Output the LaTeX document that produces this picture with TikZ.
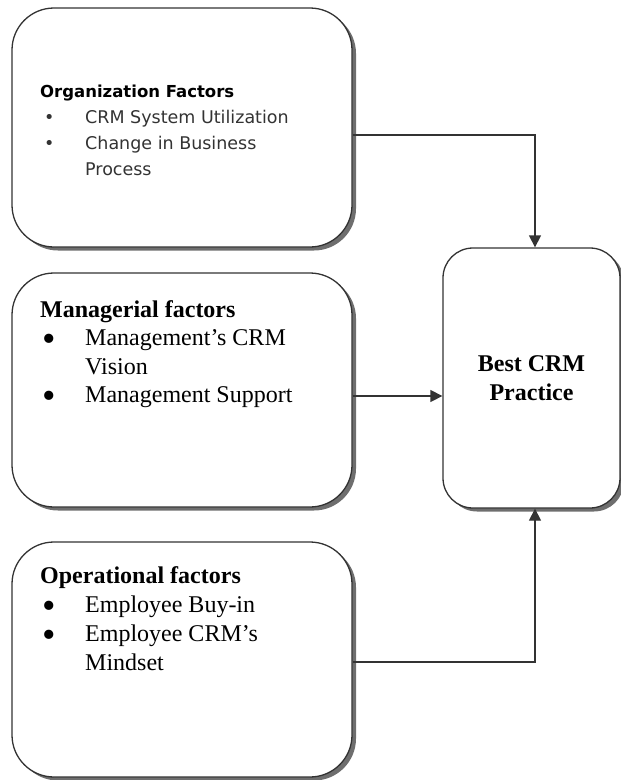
\documentclass[tikz,border=0pt]{standalone}
\usepackage{fontspec}
\setmainfont{Liberation Serif}
\newfontfamily\factorSans{DejaVu Sans}
\usetikzlibrary{positioning, arrows.meta, shadows}
\definecolor{boxDarkGrey}{HTML}{333333}
\definecolor{shadowGrey}{HTML}{6E6E6E}
\definecolor{itemGrey}{HTML}{333333}

% bullet line and its continuation, text starts 45pt in
\newcommand{\factorItem}[1]{\hspace*{4pt}\makebox[41pt][l]{\textbullet}#1}
\newcommand{\factorBig}[1]{\hspace*{2pt}\makebox[43pt][l]{\raisebox{-5.5pt}{\scalebox{1.6}{\textbullet}}}#1}
\newcommand{\factorMore}[1]{\hspace*{45pt}#1}

\begin{document}
\begin{tikzpicture}[x=1pt, y=-1pt,
    factorBox/.style={draw=boxDarkGrey, line width=1.3pt, fill=white, rounded corners=42pt,
      minimum width=340pt, inner sep=0pt,
      drop shadow={shadow xshift=4pt, shadow yshift=-3.5pt, fill=shadowGrey, opacity=1}},
    factorText/.style={anchor=north west, align=left, inner sep=0pt},
    flowArrow/.style={-{Triangle[length=12pt, width=12pt]}, line width=1.3pt, boxDarkGrey}]
  \useasboundingbox (0,0) rectangle (621,780);

  % the three factor groups
  \node[factorBox, minimum height=239pt] (org) at (182,127.5) {};
  \node[factorBox, minimum height=234pt] (mgr) at (182,390) {};
  \node[factorBox, minimum height=235pt] (ops) at (182,659.5) {};
  \node[factorBox, rounded corners=30pt, minimum width=177pt, minimum height=260pt,
        font=\fontsize{24}{28.5}\selectfont\bfseries, align=center] (best) at (531.5,378)
        {Best CRM\\Practice};

  \node[factorText, font=\factorSans\fontsize{17.5}{26}\selectfont, text=itemGrey] (orgtxt) at (40,85)
    {{\color{black}\fontsize{16.5}{26}\selectfont\bfseries Organization Factors}\\
     \factorItem{CRM System Utilization}\\
     \factorItem{Change in Business}\\
     \factorMore{Process}};
  \node[factorText, font=\fontsize{24}{28.5}\selectfont] (mgrtxt) at (40,300)
    {{\bfseries Managerial factors}\\
     \factorBig{Management’s CRM}\\
     \factorMore{Vision}\\
     \factorBig{Management Support}};
  \node[factorText, font=\fontsize{24}{29}\selectfont] (opstxt) at (40,566.5)
    {{\bfseries Operational factors}\\
     \factorBig{Employee Buy-in}\\
     \factorBig{Employee CRM’s}\\
     \factorMore{Mindset}};

  % connectors into the practice box
  \coordinate (mgrout) at ([yshift=-6pt]mgr.east);
  \draw[flowArrow] ([yshift=-7.5pt]org.east) -| ([xshift=3.5pt]best.north);
  \draw[flowArrow] (mgrout) -- (mgrout -| best.west);
  \draw[flowArrow] ([yshift=-2.5pt]ops.east) -| ([xshift=3.5pt]best.south);
\end{tikzpicture}
\end{document}
